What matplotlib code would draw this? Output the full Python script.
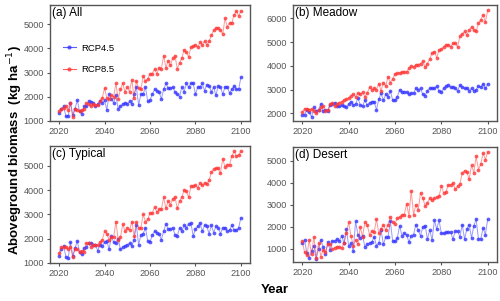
import numpy as np
import matplotlib
matplotlib.use('Agg')
import matplotlib.pyplot as plt

plt.rcParams['font.family'] = ['Liberation Sans', 'DejaVu Sans']

years = np.arange(2020, 2101)

# (a) All
all_rcp45 = [1330, 1500, 1600, 1180, 1180, 1750, 1250, 1500, 1850, 1400,
             1300, 1600, 1600, 1800, 1780, 1750, 1600, 1700, 1800, 1750,
             1850, 1450, 2100, 1900, 1750, 2050, 1500, 1600, 1700, 1750,
             1700, 1800, 1700, 2100, 2400, 1650, 2100, 2100, 2400, 1800,
             1850, 2100, 2300, 2250, 2200, 1900, 2300, 2550, 2350, 2350,
             2400, 2200, 2100, 2000, 2400, 2200, 2550, 2400, 2550, 2550,
             2100, 2400, 2400, 2550, 2250, 2500, 2450, 2200, 2400, 2050,
             2450, 2400, 2100, 2400, 2400, 2150, 2300, 2450, 2300, 2300,
             2800]
all_rcp85 = [1400, 1500, 1550, 1600, 1450, 1750, 1150, 1500, 1450, 1400,
             1450, 1500, 1750, 1700, 1600, 1700, 1650, 1650, 1800, 1950,
             2350, 1950, 1900, 2050, 2000, 2550, 1900, 2300, 2550, 2200,
             2400, 2200, 2700, 1950, 2650, 2350, 2300, 2850, 2650, 2750,
             2950, 2950, 3150, 2950, 3200, 3150, 3700, 3200, 3500, 3300,
             3600, 3700, 3150, 3400, 3600, 3950, 3850, 3650, 4050, 4100,
             4150, 4050, 4250, 4150, 4300, 4150, 4300, 4550, 4750, 4850,
             4850, 4750, 4600, 5250, 4900, 5050, 5050, 5400, 5550, 5350,
             5550]

# (b) Meadow
meadow_rcp45 = [1950, 1950, 2150, 2050, 1850, 2250, 2100, 2150, 2400, 2100,
                2150, 2100, 2350, 2400, 2450, 2300, 2300, 2350, 2300, 2250,
                2400, 2500, 2350, 2400, 2650, 2350, 2300, 2550, 2350, 2450,
                2500, 2500, 2150, 2600, 2850, 2550, 2800, 2700, 2950, 2550,
                2550, 2700, 3000, 2900, 2900, 2900, 2800, 2850, 2850, 3050,
                3000, 3050, 2800, 2750, 2950, 3050, 3050, 3050, 3150, 2950,
                2900, 3050, 3150, 3200, 3100, 3100, 3050, 2950, 3200, 3100,
                3050, 3050, 2950, 3050, 2950, 3000, 3150, 3100, 3250, 3050,
                3250]
meadow_rcp85 = [2050, 2200, 2200, 2150, 2200, 2100, 2000, 2150, 2250, 2300,
                2100, 2150, 2400, 2450, 2300, 2400, 2450, 2500, 2550, 2600,
                2650, 2750, 2800, 2700, 2850, 2800, 2900, 2700, 2850, 3100,
                3000, 3050, 3000, 3250, 2950, 3300, 3150, 3550, 3300, 3450,
                3650, 3700, 3700, 3750, 3750, 3750, 3900, 4000, 3950, 4050,
                4050, 4100, 4200, 3950, 4100, 4300, 4550, 4600, 4350, 4650,
                4700, 4800, 4900, 4900, 4800, 4950, 4950, 4800, 5250, 5350,
                5450, 5300, 5500, 5650, 5500, 5450, 5800, 5950, 6150, 5850,
                6350]

# (c) Typical
typical_rcp45 = [1300, 1550, 1700, 1250, 1200, 1850, 1300, 1600, 1900, 1450,
                 1350, 1600, 1650, 1800, 1800, 1750, 1750, 1500, 1750, 1700,
                 1850, 1900, 1550, 2100, 1850, 1800, 2000, 1550, 1650, 1700,
                 1750, 1800, 1700, 1950, 2550, 1750, 2150, 2200, 2450, 1900,
                 1850, 2150, 2300, 2250, 2200, 1950, 2300, 2600, 2400, 2400,
                 2450, 2150, 2100, 2450, 2300, 2550, 2450, 2600, 2650, 2100,
                 2400, 2500, 2650, 2300, 2550, 2500, 2200, 2550, 2250, 2500,
                 2450, 2200, 2450, 2450, 2300, 2350, 2550, 2350, 2350, 2450,
                 2850]
typical_rcp85 = [1400, 1650, 1650, 1650, 1550, 1650, 1250, 1550, 1550, 1450,
                 1500, 1450, 1800, 1800, 1650, 1750, 1750, 1750, 1850, 1950,
                 2300, 2200, 1950, 2050, 2050, 2700, 1950, 2050, 2600, 2300,
                 2450, 2350, 2700, 2100, 2700, 2450, 2450, 3000, 2700, 2800,
                 3050, 3050, 3300, 3100, 3200, 3200, 3700, 3250, 3550, 3400,
                 3650, 3700, 3250, 3550, 3700, 4000, 3950, 3700, 4150, 4150,
                 4200, 4100, 4300, 4200, 4300, 4250, 4400, 4750, 4850, 4900,
                 4900, 4700, 5300, 4950, 5050, 5050, 5400, 5600, 5400, 5450,
                 5600]

# (d) Desert
desert_rcp45 = [1250, 1400, 800, 600, 900, 1150, 550, 1000, 1400, 1100,
                750, 1300, 950, 1350, 1350, 1450, 1350, 1600, 1250, 1900,
                1150, 1250, 900, 2250, 1650, 1500, 1600, 1100, 1200, 1250,
                1300, 1550, 1150, 1250, 1850, 1200, 1550, 1550, 2250, 1350,
                1350, 1500, 2050, 1600, 1700, 1650, 1300, 1600, 1650, 2100,
                1850, 1600, 2000, 2050, 1450, 1850, 1400, 2300, 1900, 2300,
                1700, 1700, 1750, 1750, 1750, 1450, 1800, 1800, 1550, 2100,
                1450, 1900, 2100, 1500, 2050, 2350, 1450, 1450, 1950, 1650,
                2350]
desert_rcp85 = [1350, 850, 700, 1400, 750, 1550, 600, 1250, 650, 950,
                850, 1200, 1200, 1000, 1050, 1100, 1100, 1050, 1250, 1700,
                2200, 1600, 1150, 1400, 1200, 2000, 1550, 2200, 2100, 1650,
                1800, 1750, 2350, 1700, 1900, 2100, 1850, 2100, 2450, 2200,
                2150, 2400, 2450, 2550, 2550, 3050, 2500, 3650, 2550, 3000,
                2750, 3550, 3300, 2950, 3100, 3300, 3200, 3300, 3350, 3400,
                3850, 3550, 3600, 3900, 3900, 4000, 3700, 3850, 3950, 4450,
                4550, 4500, 4150, 4800, 4450, 5200, 4600, 4850, 5350, 5050,
                5400]

panels = [
    ('(a) All', all_rcp45, all_rcp85, (990, 5800), [1000, 2000, 3000, 4000, 5000],
     [0.10, 0.598, 0.40, 0.385]),
    ('(b) Meadow', meadow_rcp45, meadow_rcp85, (1680, 6560), [2000, 3000, 4000, 5000, 6000],
     [0.586, 0.598, 0.408, 0.385]),
    ('(c) Typical', typical_rcp45, typical_rcp85, (990, 5820), [1000, 2000, 3000, 4000, 5000],
     [0.10, 0.126, 0.40, 0.389]),
    ('(d) Desert', desert_rcp45, desert_rcp85, (410, 5630), [1000, 2000, 3000, 4000, 5000],
     [0.586, 0.13, 0.408, 0.382]),
]

blue = '#3535ff'
red = '#ff3535'

fig = plt.figure(figsize=(5.0, 3.01), dpi=100)

for i, (title, s45, s85, ylim, yticks, rect) in enumerate(panels):
    ax = fig.add_axes(rect)
    for vals, col, lab in [(s45, blue, 'RCP4.5'), (s85, red, 'RCP8.5')]:
        ax.plot(years, vals, color=col, lw=0.7, alpha=0.5)
        ax.plot(years, vals, ls='none', marker='o', ms=2.7, mec='none',
                color=col, alpha=0.8)
        if i == 0:
            ax.plot([], [], color=col, lw=0.8, marker='o', ms=3.0,
                    mec='none', alpha=0.8, label=lab)
    ax.set_xlim(2016, 2104)
    ax.set_ylim(*ylim)
    ax.set_xticks([2020, 2040, 2060, 2080, 2100])
    ax.set_yticks(yticks)
    ax.tick_params(labelsize=6.6, labelcolor='#555555', color='#555555',
                   length=2.5, width=0.8, pad=2)
    for sp in ax.spines.values():
        sp.set_color('#555555')
        sp.set_linewidth(1.0)
    ax.text(0.008, 0.985, title, transform=ax.transAxes, ha='left', va='top',
            fontsize=8.5)
    if i == 0:
        ax.legend(loc='upper left', bbox_to_anchor=(0.02, 0.74), frameon=False,
                  fontsize=6.8, handlelength=1.4, handletextpad=0.6,
                  labelspacing=1.3)

fig.text(0.03, 0.5, 'Aboveground biomass  (kg ha$^{-1}$)', rotation=90,
         ha='center', va='center', fontsize=9.5, fontweight='bold')
fig.text(0.55, 0.035, 'Year', ha='center', va='center', fontsize=9.5,
         fontweight='bold')

fig.savefig('out.png', dpi=100)
